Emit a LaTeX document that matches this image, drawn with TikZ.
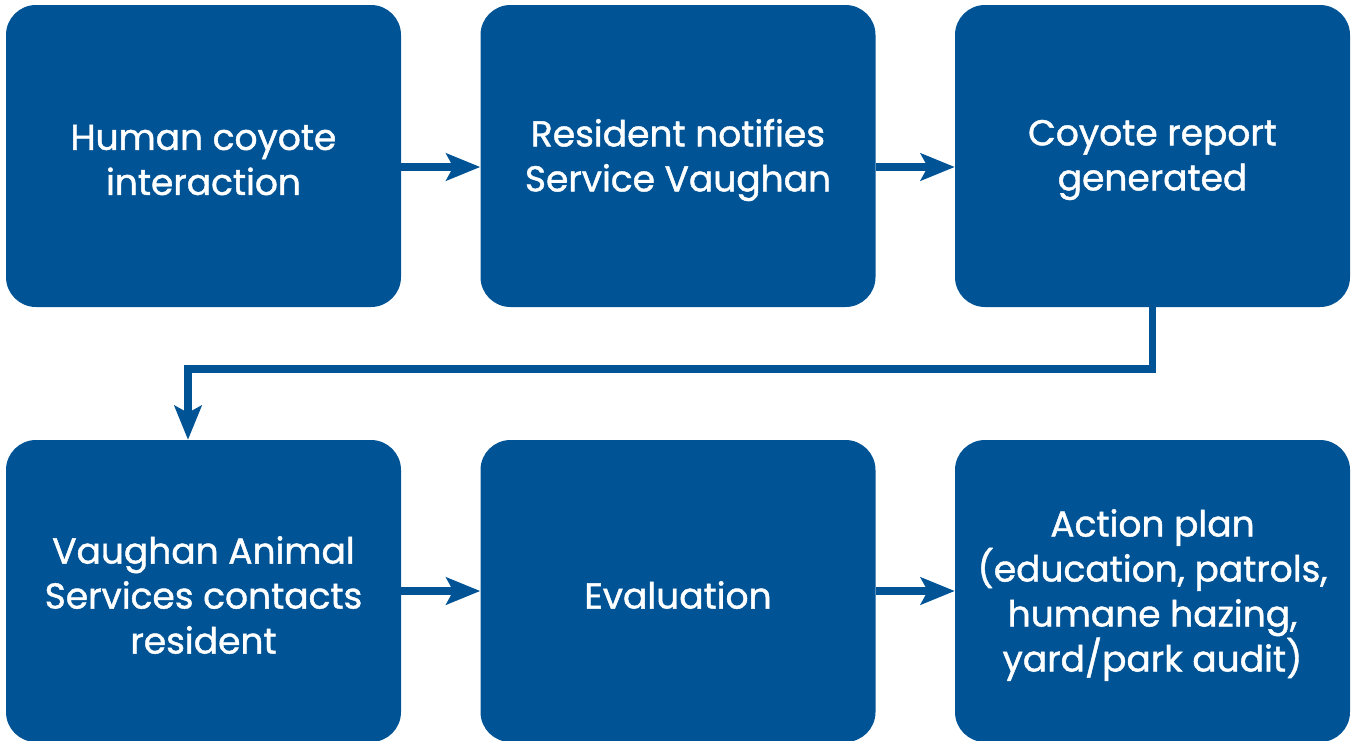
\documentclass[tikz,border=0pt]{standalone}
\usepackage{fontspec}
\newfontfamily\boxfont{Poppins}[FakeBold=1.2]
\usepackage{tikz}
\usetikzlibrary{positioning}
\usetikzlibrary{arrows.meta}
\definecolor{vblue}{RGB}{0,84,150}
\tikzset{	x=1pt, y=1pt,
	node distance=474.5pt,
	box/.style={
		rectangle,
		rounded corners=30pt,
		fill=vblue,
		minimum width=395pt,
		minimum height=302pt,
		inner sep=0pt},
	txt/.style={
		text=white,
		align=center,
		yshift=-4pt,
		inner sep=0pt,
		font=\boxfont\fontsize{36}{45}\selectfont},
	flow/.style={
		draw=vblue,
		line width=7.5pt,
		-{Stealth[length=34pt,width=27pt,inset=7pt]}}
}
\begin{document}
\begin{tikzpicture}
				\useasboundingbox (0,0) rectangle (1354,-740);
				\node[box] (h1) at (203.5,-156) {};
				\node[box, right of=h1] (h2) {};
				\node[box, right of=h2] (h3) {};
				\node[box, below of=h1, node distance=435pt] (v1) {};
				\node[box, right of=v1] (v2) {};
				\node[box, right of=v2] (v3) {};
				\node[txt] (h1t) at (h1) {Human coyote\\interaction};
				\node[txt] (h2t) at (h2) {Resident notifies\\Service Vaughan};
				\node[txt] (h3t) at (h3) {Coyote report\\generated};
				\node[txt] (v1t) at (v1) {Vaughan Animal\\Services contacts\\resident};
				\node[txt] (v2t) at (v2) {Evaluation};
				\node[txt] (v3t) at (v3) {Action plan\\(education, patrols,\\humane hazing,\\yard/park audit)};
				\coordinate (bend) at (188,-369);
				\draw[flow] ([yshift=-11pt]h1.east) -- ([yshift=-11pt]h2.west);
				\draw[flow] ([yshift=-11pt]h2.east) -- ([yshift=-11pt]h3.west);
				\draw[flow] (h3.south) |- (bend) -- (bend |- v1.north);
				\draw[flow] (v1) -- (v2);
				\draw[flow] (v2) -- (v3);
			\end{tikzpicture}
\end{document}
